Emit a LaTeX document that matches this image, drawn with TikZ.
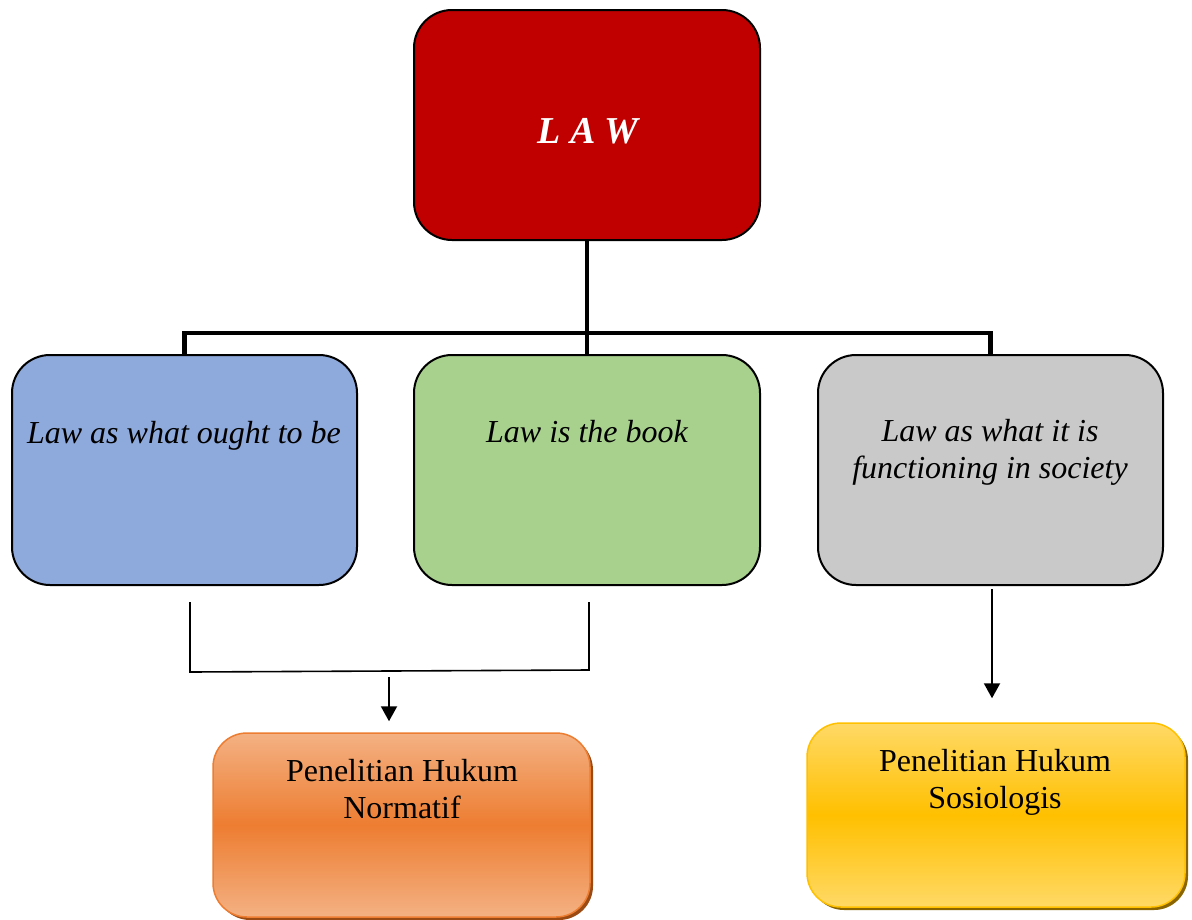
\documentclass[tikz,border=0pt]{standalone}
\usepackage{fontspec}
\setmainfont{Liberation Serif}
\usetikzlibrary{arrows.meta,shadows}
\definecolor{lawred}{HTML}{C00000}
\definecolor{bluebox}{HTML}{8EA9DB}
\definecolor{greenbox}{HTML}{A9D18E}
\definecolor{graybox}{HTML}{C9C9C9}
\definecolor{orangedark}{HTML}{ED7D31}
\definecolor{orangelight}{HTML}{F4B183}
\definecolor{orangeshadow}{HTML}{9C4A14}
\definecolor{yellowdark}{HTML}{FFC000}
\definecolor{yellowlight}{HTML}{FFD966}
\definecolor{yellowshadow}{HTML}{8A6500}
\begin{document}
\begin{tikzpicture}[x=1pt,y=-1pt,
  box/.style={rounded corners=38pt, draw=black, line width=2pt, inner sep=0pt},
  resbox/.style={rounded corners=34pt, line width=1.5pt, inner sep=0pt},
  itxt/.style={font=\fontsize{32}{36.8}\selectfont\itshape, align=center, anchor=base, inner sep=0pt},
  rtxt/.style={font=\fontsize{32}{36.8}\selectfont, align=center, anchor=base, inner sep=0pt},
  bus/.style={line width=4.5pt, line join=miter, line cap=rect},
  thinline/.style={line width=1.6pt},
  arrowline/.style={line width=2pt, -{Triangle[width=16pt,length=15pt]}}
]
\useasboundingbox (0,0) rectangle (1192,919);

% top box
\node[box, fill=lawred, minimum width=346pt, minimum height=230pt] (law) at (587,125) {};
\node[anchor=base, inner sep=0pt, text=white, font=\fontsize{38}{44}\selectfont\bfseries\itshape] (tlaw) at (588,143) {L A W};

% middle row
\node[box, fill=bluebox, minimum width=345pt, minimum height=230pt] (blue) at (184.5,470) {};
\node[box, fill=greenbox, minimum width=346pt, minimum height=230pt] (green) at (587,470) {};
\node[box, fill=graybox, minimum width=345pt, minimum height=230pt] (gray) at (990.5,470) {};
\node[itxt] (tblue) at (184,443) {Law as what ought to be};
\node[itxt] (tgreen) at (587,442) {Law is the book};
\node[itxt] (tgray) at (990,478.5) {Law as what it is\\functioning in society};

% bottom row
\node[resbox, draw=orangedark, top color=orangelight, bottom color=orangelight, middle color=orangedark,
      general shadow={fill=orangeshadow, shadow xshift=3pt, shadow yshift=-3pt},
      minimum width=377pt, minimum height=184pt] (orange) at (401.5,825) {};
\node[resbox, draw=yellowdark, top color=yellowlight, bottom color=yellowlight, middle color=yellowdark,
      general shadow={fill=yellowshadow, shadow xshift=3pt, shadow yshift=-3pt},
      minimum width=378pt, minimum height=184pt] (yellow) at (996,815) {};
\node[rtxt] (torange) at (402,818.5) {Penelitian Hukum\\Normatif};
\node[rtxt] (tyellow) at (995,808.5) {Penelitian Hukum\\Sosiologis};

% bus connectors
\coordinate (bar) at (0,333);
\draw[bus] (law.south) -- (law.south |- bar);
\draw[bus] (blue.north) -- (blue.north |- bar) -- (gray.north |- bar) -- (gray.north);
\draw[bus, line width=3.5pt] (green.north) -- (green.north |- bar);

% bracket
\coordinate (bl) at (190,602);
\coordinate (blb) at (190,672);
\coordinate (br) at (589,602);
\coordinate (brb) at (589,670);
\draw[thinline] (bl) -- (blb) -- (brb) -- (br);
\coordinate (as) at (389,677);
\draw[arrowline, shorten >=11pt] (as) -- (as |- orange.north);

% right arrow
\draw[arrowline, shorten <=3pt, shorten >=24pt] ([xshift=1.5pt]gray.south) -- ([xshift=1.5pt]gray.south |- yellow.north);
\end{tikzpicture}
\end{document}
